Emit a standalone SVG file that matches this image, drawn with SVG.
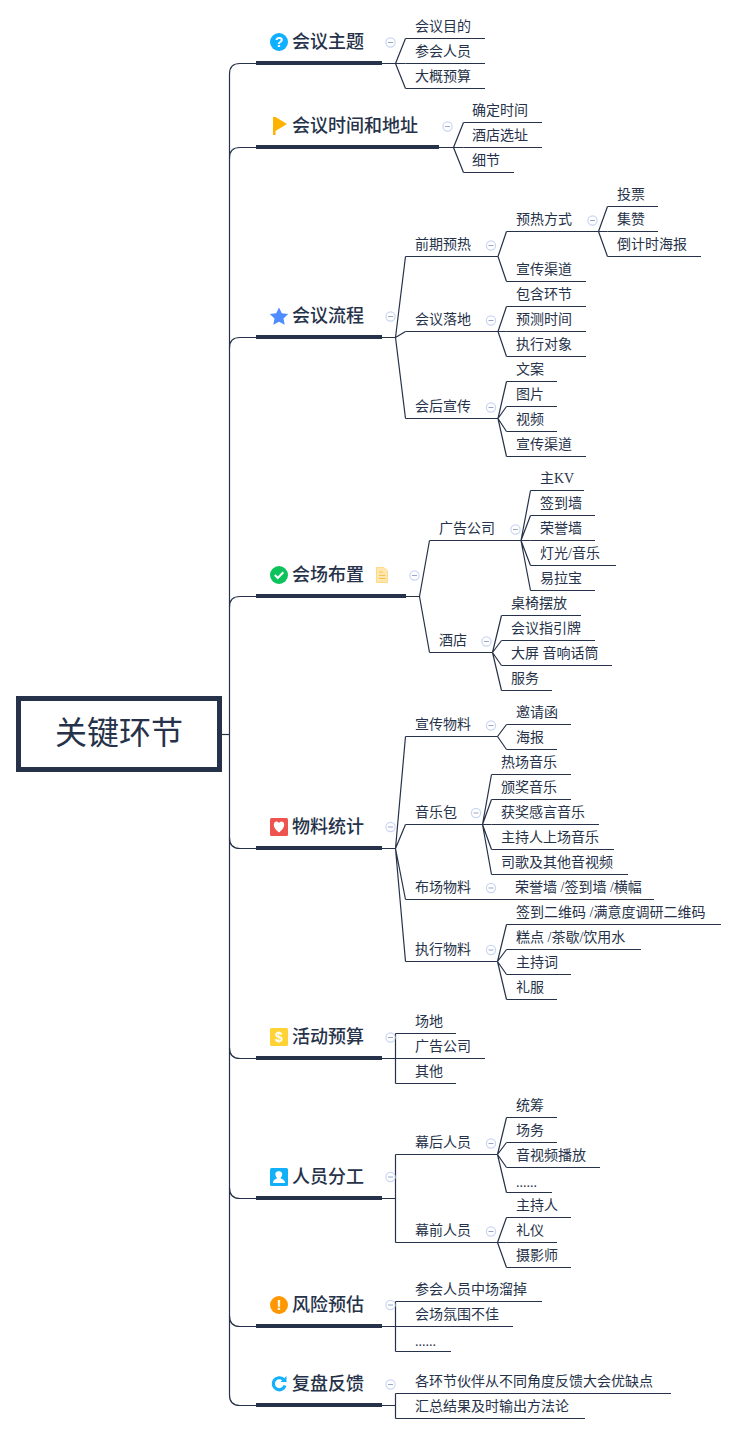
<svg xmlns="http://www.w3.org/2000/svg" width="737" height="1434" viewBox="0 0 737 1434">
<style>
text{font-family:"Liberation Serif","Noto Sans CJK SC",sans-serif;fill:#263249}
.l{font-size:14px}
.t{font-size:18px;font-weight:500}
.r{font-size:32px}
.u,.c{fill:none;stroke:#263249;stroke-width:1.2}
.b{fill:#263249}
.ic{font-family:"Liberation Sans",sans-serif;font-weight:700;font-size:14px;fill:#fff;text-anchor:middle}
</style>
<defs>
<g id="fold"><circle r="4.6" fill="#fff" stroke="#c8d6f4" stroke-width="1.2"/><path d="M-2.5 0H2.5" stroke="#9aa6c4" stroke-width="1"/></g>
</defs>
<g id="connectors">
<path class="c" d="M222 734.5H229.5"/>
<path class="c" d="M256 63.5H240Q229.5 63.5 229.5 74V1395Q229.5 1405.5 240 1405.5H256"/>
<path class="c" d="M256 147.5H240Q229.5 147.5 229.5 158M256 337.5H240Q229.5 337.5 229.5 348M256 596.5H240Q229.5 596.5 229.5 607M229.5 838Q229.5 848.5 240 848.5H256M229.5 1048Q229.5 1058.5 240 1058.5H256M229.5 1188Q229.5 1198.5 240 1198.5H256M229.5 1316Q229.5 1326.5 240 1326.5H256"/>
<path class="c" d="M382 63.5H395.5M395.5 63.5L405.5 38.5M395.5 63.5H405.5M395.5 63.5L405.5 88.5"/>
<path class="c" d="M439 147.5H453.5M453.5 147.5L463.5 122.5M453.5 147.5H463.5M453.5 147.5L463.5 172.5"/>
<path class="c" d="M382 337.5H395.5M395.5 337.5L405.5 256.5M395.5 337.5L405.5 331.5M395.5 337.5L405.5 418.5"/>
<path class="c" d="M498 256.5L506.5 231.5M498 256.5L506.5 281.5M598.5 231.5L607.5 206.5M598.5 231.5H607.5M598.5 231.5L607.5 256.5"/>
<path class="c" d="M498 331.5L506.5 306.5M498 331.5H506.5M498 331.5L506.5 356.5"/>
<path class="c" d="M498 418.5L506.5 381.5M498 418.5L506.5 406.5M498 418.5L506.5 431.5M498 418.5L506.5 456.5"/>
<path class="c" d="M406 596.5H419.5M419.5 596.5L429.5 540.5M419.5 596.5L429.5 652.5"/>
<path class="c" d="M521 540.5L530.5 490.5M521 540.5L530.5 515.5M521 540.5H530.5M521 540.5L530.5 565.5M521 540.5L530.5 590.5"/>
<path class="c" d="M492.5 652.5L501.5 615.5M492.5 652.5L501.5 640.5M492.5 652.5L501.5 665.5M492.5 652.5L501.5 690.5"/>
<path class="c" d="M382 848.5H395.5M395.5 848.5L405.5 736.5M395.5 848.5L405.5 824.5M395.5 848.5L405.5 899.5M395.5 848.5L405.5 961.5"/>
<path class="c" d="M497.5 736.5L506.5 724.5M497.5 736.5L506.5 749.5"/>
<path class="c" d="M482.5 824.5L491.5 774.5M482.5 824.5L491.5 799.5M482.5 824.5H491.5M482.5 824.5L491.5 849.5M482.5 824.5L491.5 874.5"/>
<path class="c" d="M497.5 961.5L506.5 924.5M497.5 961.5L506.5 949.5M497.5 961.5L506.5 974.5M497.5 961.5L506.5 999.5"/>
<path class="c" d="M382 1058.5H395.5M395.5 1033.5V1083.5"/>
<path class="c" d="M382 1198.5H395.5M395.5 1154.5V1242.5"/>
<path class="c" d="M497.5 1154.5L506.5 1117.5M497.5 1154.5L506.5 1142.5M497.5 1154.5L506.5 1167.5M497.5 1154.5L506.5 1192.5"/>
<path class="c" d="M497.5 1242.5L506.5 1217.5M497.5 1242.5H506.5M497.5 1242.5L506.5 1267.5"/>
<path class="c" d="M382 1326.5H395.5M395.5 1301.5V1351.5"/>
<path class="c" d="M382 1405.5H395.5M395.5 1393.5V1418.5"/>
</g>
<g id="root"><rect x="18.500" y="698.500" width="201" height="71" fill="#fff" stroke="#263249" stroke-width="5"/><text class="r" x="55" y="744">关键环节</text></g>

<g id="topic1"><rect class="b" x="256" y="61" width="126" height="4"/><circle cx="279" cy="42" r="9" fill="#0fb0ff"/><text class="ic" x="279" y="47">?</text><text class="t" x="292" y="48">会议主题</text><use href="#fold" x="390.5" y="42.500"/></g>
<g id="n1-1"><path class="u" d="M405.500 38.500H485"/><text class="l" x="415" y="31">会议目的</text></g>
<g id="n1-2"><path class="u" d="M405.500 63.500H485"/><text class="l" x="415" y="56">参会人员</text></g>
<g id="n1-3"><path class="u" d="M405.500 88.500H485"/><text class="l" x="415" y="81">大概预算</text></g>

<g id="topic2"><rect class="b" x="256" y="145" width="183" height="4"/><path d="M273 117H275.500V135H273ZM275.500 117L287 124L275.500 131Z" fill="#ffb300"/><text class="t" x="292" y="132">会议时间和地址</text><use href="#fold" x="447.500" y="126.500"/></g>
<g id="n2-1"><path class="u" d="M463.500 122.500H542"/><text class="l" x="472" y="115">确定时间</text></g>
<g id="n2-2"><path class="u" d="M463.500 147.500H542"/><text class="l" x="472" y="140">酒店选址</text></g>
<g id="n2-3"><path class="u" d="M463.500 172.500H514"/><text class="l" x="472" y="165">细节</text></g>

<g id="topic3"><rect class="b" x="256" y="335" width="126" height="4"/><path d="M279 307.500L281.800 313.300L288.200 314.100L283.500 318.500L284.700 324.800L279 321.700L273.300 324.800L274.500 318.500L269.800 314.100L276.200 313.300Z" fill="#4f8cff"/><text class="t" x="292" y="322">会议流程</text><use href="#fold" x="390.500" y="316.500"/></g>
<g id="n3-1"><path class="u" d="M405.500 256.500H498"/><text class="l" x="415" y="249">前期预热</text><use href="#fold" x="491" y="245.500"/></g>
<g id="n3-1-1"><path class="u" d="M506.500 231.500H598.500"/><text class="l" x="516" y="224">预热方式</text><use href="#fold" x="592.500" y="220.500"/></g>
<g id="n3-1-1-1"><path class="u" d="M607.500 206.500H658"/><text class="l" x="617" y="199">投票</text></g>
<g id="n3-1-1-2"><path class="u" d="M607.500 231.500H658"/><text class="l" x="617" y="224">集赞</text></g>
<g id="n3-1-1-3"><path class="u" d="M607.500 256.500H701"/><text class="l" x="617" y="249">倒计时海报</text></g>
<g id="n3-1-2"><path class="u" d="M506.500 281.500H586"/><text class="l" x="516" y="274">宣传渠道</text></g>
<g id="n3-2"><path class="u" d="M405.500 331.500H498"/><text class="l" x="415" y="324">会议落地</text><use href="#fold" x="491" y="320.500"/></g>
<g id="n3-2-1"><path class="u" d="M506.500 306.500H586"/><text class="l" x="516" y="299">包含环节</text></g>
<g id="n3-2-2"><path class="u" d="M506.500 331.500H586"/><text class="l" x="516" y="324">预测时间</text></g>
<g id="n3-2-3"><path class="u" d="M506.500 356.500H586"/><text class="l" x="516" y="349">执行对象</text></g>
<g id="n3-3"><path class="u" d="M405.500 418.500H498"/><text class="l" x="415" y="411">会后宣传</text><use href="#fold" x="491" y="407.500"/></g>
<g id="n3-3-1"><path class="u" d="M506.500 381.500H557"/><text class="l" x="516" y="374">文案</text></g>
<g id="n3-3-2"><path class="u" d="M506.500 406.500H557"/><text class="l" x="516" y="399">图片</text></g>
<g id="n3-3-3"><path class="u" d="M506.500 431.500H557"/><text class="l" x="516" y="424">视频</text></g>
<g id="n3-3-4"><path class="u" d="M506.500 456.500H586"/><text class="l" x="516" y="449">宣传渠道</text></g>

<g id="topic4"><rect class="b" x="256" y="594" width="150" height="4"/><circle cx="279" cy="575" r="9" fill="#0cc25a"/><path d="M274.800 575L277.800 578L283.300 572.300" fill="none" stroke="#fff" stroke-width="2"/><text class="t" x="292" y="581">会场布置</text><path d="M376.500 567.500H384L387.500 571V582.500H376.500Z" fill="#ffe7ad" stroke="#ffd98a"/><path d="M379 572H383M379 575.500H385.500M379 578.500H385.500" stroke="#f8c14f"/><use href="#fold" x="414.500" y="575.500"/></g>
<g id="n4-1"><path class="u" d="M429.500 540.500H521"/><text class="l" x="439" y="533">广告公司</text><use href="#fold" x="515.500" y="529.500"/></g>
<g id="n4-1-1"><path class="u" d="M530.500 490.500H584"/><text class="l" x="540" y="483">主KV</text></g>
<g id="n4-1-2"><path class="u" d="M530.500 515.500H595"/><text class="l" x="540" y="508">签到墙</text></g>
<g id="n4-1-3"><path class="u" d="M530.500 540.500H595"/><text class="l" x="540" y="533">荣誉墙</text></g>
<g id="n4-1-4"><path class="u" d="M530.500 565.500H616"/><text class="l" x="540" y="558">灯光/音乐</text></g>
<g id="n4-1-5"><path class="u" d="M530.500 590.500H595"/><text class="l" x="540" y="583">易拉宝</text></g>
<g id="n4-2"><path class="u" d="M429.500 652.500H492.500"/><text class="l" x="439" y="645">酒店</text><use href="#fold" x="486.500" y="641.500"/></g>
<g id="n4-2-1"><path class="u" d="M501.500 615.500H581"/><text class="l" x="511" y="608">桌椅摆放</text></g>
<g id="n4-2-2"><path class="u" d="M501.500 640.500H595"/><text class="l" x="511" y="633">会议指引牌</text></g>
<g id="n4-2-3"><path class="u" d="M501.500 665.500H612"/><text class="l" x="511" y="658">大屏 音响话筒</text></g>
<g id="n4-2-4"><path class="u" d="M501.500 690.500H552"/><text class="l" x="511" y="683">服务</text></g>

<g id="topic5"><rect class="b" x="256" y="846" width="126" height="4"/><rect x="270" y="818" width="18" height="18" rx="1.500" fill="#ef5350"/><path d="M279 832.500C272 827.500 273 821.500 276.500 821.500C278 821.500 279 823 279 823C279 823 280 821.500 281.500 821.500C285 821.500 286 827.500 279 832.500Z" fill="#fff"/><text class="t" x="292" y="833">物料统计</text><use href="#fold" x="390.500" y="827"/></g>
<g id="n5-1"><path class="u" d="M405.500 736.500H497.500"/><text class="l" x="415" y="729">宣传物料</text><use href="#fold" x="491" y="725.500"/></g>
<g id="n5-1-1"><path class="u" d="M506.500 724.500H571"/><text class="l" x="516" y="717">邀请函</text></g>
<g id="n5-1-2"><path class="u" d="M506.500 749.500H557"/><text class="l" x="516" y="742">海报</text></g>
<g id="n5-2"><path class="u" d="M405.500 824.500H482.500"/><text class="l" x="415" y="817">音乐包</text><use href="#fold" x="476" y="813"/></g>
<g id="n5-2-1"><path class="u" d="M491.500 774.500H571"/><text class="l" x="501" y="767">热场音乐</text></g>
<g id="n5-2-2"><path class="u" d="M491.500 799.500H571"/><text class="l" x="501" y="792">颁奖音乐</text></g>
<g id="n5-2-3"><path class="u" d="M491.500 824.500H599"/><text class="l" x="501" y="817">获奖感言音乐</text></g>
<g id="n5-2-4"><path class="u" d="M491.500 849.500H614"/><text class="l" x="501" y="842">主持人上场音乐</text></g>
<g id="n5-2-5"><path class="u" d="M491.500 874.500H628"/><text class="l" x="501" y="867">司歌及其他音视频</text></g>
<g id="n5-3"><path class="u" d="M405.500 899.500H654"/><text class="l" x="415" y="892">布场物料</text><use href="#fold" x="491" y="888"/><text class="l" x="515" y="892">荣誉墙 /签到墙 /横幅</text></g>
<g id="n5-4"><path class="u" d="M405.500 961.500H497.500"/><text class="l" x="415" y="954">执行物料</text><use href="#fold" x="491" y="950"/></g>
<g id="n5-4-1"><path class="u" d="M506.500 924.500H721"/><text class="l" x="516" y="917">签到二维码 /满意度调研二维码</text></g>
<g id="n5-4-2"><path class="u" d="M506.500 949.500H641"/><text class="l" x="516" y="942">糕点 /茶歇/饮用水</text></g>
<g id="n5-4-3"><path class="u" d="M506.500 974.500H571"/><text class="l" x="516" y="967">主持词</text></g>
<g id="n5-4-4"><path class="u" d="M506.500 999.500H557"/><text class="l" x="516" y="992">礼服</text></g>

<g id="topic6"><rect class="b" x="256" y="1056" width="126" height="4"/><rect x="270" y="1028" width="18" height="18" rx="1.500" fill="#ffd335"/><text class="ic" x="279" y="1042">$</text><text class="t" x="292" y="1043">活动预算</text><use href="#fold" x="390.500" y="1037.500"/></g>
<g id="n6-1"><path class="u" d="M395.500 1033.500H456"/><text class="l" x="415" y="1026">场地</text></g>
<g id="n6-2"><path class="u" d="M395.500 1058.500H485"/><text class="l" x="415" y="1051">广告公司</text></g>
<g id="n6-3"><path class="u" d="M395.500 1083.500H456"/><text class="l" x="415" y="1076">其他</text></g>

<g id="topic7"><rect class="b" x="256" y="1196" width="126" height="4"/><rect x="270" y="1168" width="18" height="18" rx="1.500" fill="#12b0f8"/><path d="M273 1183C273 1179.500 276 1179.500 277 1178C275.500 1176 275 1174 275.500 1173C276.500 1170.500 281 1170.500 282 1173C282.500 1174.500 282 1176.500 280.500 1178C282 1179.500 285 1179.500 285 1183Z" fill="#fff"/><text class="t" x="292" y="1183">人员分工</text><use href="#fold" x="390.500" y="1177"/></g>
<g id="n7-1"><path class="u" d="M395.500 1154.500H497.500"/><text class="l" x="415" y="1147">幕后人员</text><use href="#fold" x="491" y="1143.500"/></g>
<g id="n7-1-1"><path class="u" d="M506.500 1117.500H557"/><text class="l" x="516" y="1110">统筹</text></g>
<g id="n7-1-2"><path class="u" d="M506.500 1142.500H557"/><text class="l" x="516" y="1135">场务</text></g>
<g id="n7-1-3"><path class="u" d="M506.500 1167.500H600"/><text class="l" x="516" y="1160">音视频播放</text></g>
<g id="n7-1-4"><path class="u" d="M506.500 1192.500H552"/><text class="l" x="516" y="1187">......</text></g>
<g id="n7-2"><path class="u" d="M395.500 1242.500H497.500"/><text class="l" x="415" y="1235">幕前人员</text><use href="#fold" x="491" y="1231.500"/></g>
<g id="n7-2-1"><path class="u" d="M506.500 1217.500H571"/><text class="l" x="516" y="1210">主持人</text></g>
<g id="n7-2-2"><path class="u" d="M506.500 1242.500H557"/><text class="l" x="516" y="1235">礼仪</text></g>
<g id="n7-2-3"><path class="u" d="M506.500 1267.500H571"/><text class="l" x="516" y="1260">摄影师</text></g>

<g id="topic8"><rect class="b" x="256" y="1324" width="126" height="4"/><circle cx="279" cy="1305" r="9" fill="#ff9800"/><text class="ic" x="279" y="1310">!</text><text class="t" x="292" y="1311">风险预估</text><use href="#fold" x="390.500" y="1305"/></g>
<g id="n8-1"><path class="u" d="M395.500 1301.500H542"/><text class="l" x="415" y="1294">参会人员中场溜掉</text></g>
<g id="n8-2"><path class="u" d="M395.500 1326.500H513"/><text class="l" x="415" y="1319">会场氛围不佳</text></g>
<g id="n8-3"><path class="u" d="M395.500 1351.500H451"/><text class="l" x="415" y="1346">......</text></g>

<g id="topic9"><rect class="b" x="256" y="1403" width="126" height="4"/><path d="M283.500 1379.500A6 6 0 1 0 285 1385.500" fill="none" stroke="#12b0ff" stroke-width="3.200"/><path d="M280.500 1382H286.500V1376Z" fill="#12b0ff"/><text class="t" x="292" y="1390">复盘反馈</text><use href="#fold" x="390.500" y="1384.500"/></g>
<g id="n9-1"><path class="u" d="M395.500 1393.500H671"/><text class="l" x="415" y="1386">各环节伙伴从不同角度反馈大会优缺点</text></g>
<g id="n9-2"><path class="u" d="M395.500 1418.500H585"/><text class="l" x="415" y="1411">汇总结果及时输出方法论</text></g>
</svg>
